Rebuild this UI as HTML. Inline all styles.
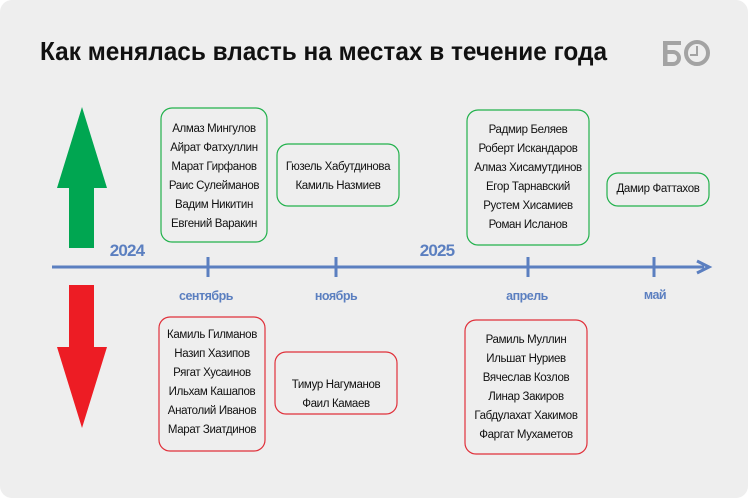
<!DOCTYPE html>
<html><head><meta charset="utf-8"><style>
html,body{margin:0;padding:0;background:#fff;}
svg{display:block;}
.n{font-family:"Liberation Sans",sans-serif;font-size:11.5px;letter-spacing:-0.35px;fill:#111;text-anchor:middle;}
.m{font-family:"Liberation Sans",sans-serif;font-size:12.5px;letter-spacing:-0.5px;font-weight:bold;fill:#5b7fc0;text-anchor:middle;}
.y{font-family:"Liberation Sans",sans-serif;font-size:17px;letter-spacing:-0.8px;font-weight:bold;fill:#5b7fc0;text-anchor:middle;}
</style></head><body>
<svg width="750" height="500" viewBox="0 0 750 500">
<rect x="0" y="0" width="748" height="498" rx="12" fill="#eeeeee"/>
<text x="40" y="60" font-family="Liberation Sans,sans-serif" font-weight="bold" font-size="26" fill="#111" textLength="567" lengthAdjust="spacingAndGlyphs">Как менялась власть на местах в течение года</text>
<path d="M663 41 H681 V45 H667.5 V50 H673 A8 8 0 0 1 673 66 H663 Z M667.5 54 V62 H673 A4 4 0 0 0 673 54 Z" fill="#a3a3a3"/>
<circle cx="697" cy="53" r="11" fill="none" stroke="#a3a3a3" stroke-width="4"/>
<path d="M697 46 V55 H690" fill="none" stroke="#a3a3a3" stroke-width="2"/>
<polygon points="82,107 107,188 94,188 94,248 69,248 69,188 57,188" fill="#00a651"/>
<polygon points="69,285 94,285 94,347 107,347 82,428 57,347 69,347" fill="#ed1c24"/>
<line x1="52" y1="267" x2="704" y2="267" stroke="#5b7fc0" stroke-width="3"/>
<polyline points="697,261 709,267 697,273" fill="none" stroke="#5b7fc0" stroke-width="3"/>
<g stroke="#5b7fc0" stroke-width="3">
<line x1="208" y1="257" x2="208" y2="277"/><line x1="336" y1="257" x2="336" y2="277"/>
<line x1="528" y1="257" x2="528" y2="277"/><line x1="654" y1="257" x2="654" y2="277"/></g>
<text class="y" x="127" y="256">2024</text><text class="y" x="437" y="256">2025</text>
<text class="m" x="206" y="300">сентябрь</text><text class="m" x="336" y="300">ноябрь</text>
<text class="m" x="527" y="300">апрель</text><text class="m" x="655" y="299">май</text>
<g fill="none" stroke="#22b14c" stroke-width="1.2">
<rect x="161" y="108" width="106" height="134" rx="11"/>
<rect x="277" y="144" width="122" height="62" rx="11"/>
<rect x="467" y="110" width="122" height="135" rx="11"/>
<rect x="607" y="173" width="102" height="33" rx="11"/></g>
<g class="n">
<text x="214" y="132">Алмаз Мингулов</text><text x="214" y="151">Айрат Фатхуллин</text>
<text x="214" y="170">Марат Гирфанов</text><text x="214" y="189">Раис Сулейманов</text>
<text x="214" y="208">Вадим Никитин</text><text x="214" y="227">Евгений Варакин</text>
<text x="338" y="170">Гюзель Хабутдинова</text><text x="338" y="189">Камиль Назмиев</text>
<text x="528" y="133">Радмир Беляев</text><text x="528" y="152">Роберт Искандаров</text>
<text x="528" y="171">Алмаз Хисамутдинов</text><text x="528" y="190">Егор Тарнавский</text>
<text x="528" y="209">Рустем Хисамиев</text><text x="528" y="228">Роман Исланов</text>
<text x="658" y="192">Дамир Фаттахов</text>
</g>
<g fill="none" stroke="#e0303a" stroke-width="1.2">
<rect x="159" y="317" width="106" height="134" rx="11"/>
<rect x="275" y="352" width="122" height="62" rx="11"/>
<rect x="465" y="320" width="122" height="134" rx="11"/></g>
<g class="n">
<text x="212" y="338">Камиль Гилманов</text><text x="212" y="357">Назип Хазипов</text>
<text x="212" y="376">Рягат Хусаинов</text><text x="212" y="395">Ильхам Кашапов</text>
<text x="212" y="414">Анатолий Иванов</text><text x="212" y="433">Марат Зиатдинов</text>
<text x="336" y="388">Тимур Нагуманов</text><text x="336" y="407">Фаил Камаев</text>
<text x="526" y="343">Рамиль Муллин</text><text x="526" y="362">Ильшат Нуриев</text>
<text x="526" y="381">Вячеслав Козлов</text><text x="526" y="400">Линар Закиров</text>
<text x="526" y="419">Габдулахат Хакимов</text><text x="526" y="438">Фаргат Мухаметов</text>
</g>
</svg>
</body></html>
